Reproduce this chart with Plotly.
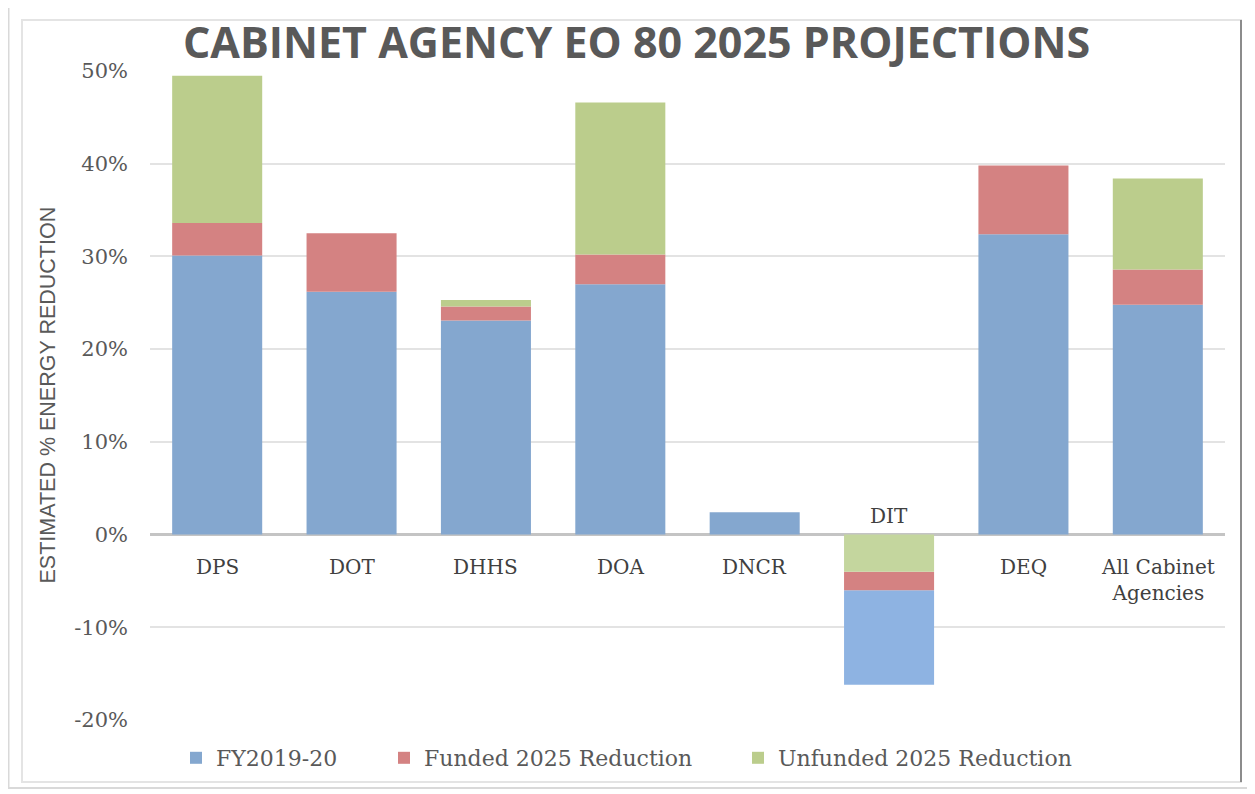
import plotly.graph_objects as go

# ---- data ----
categories = ["DPS", "DOT", "DHHS", "DOA", "DNCR", "DIT", "DEQ", "All Cabinet<br>Agencies"]
fy2019_20 = [30.1, 26.2, 23.1, 27.0, 2.4, -10.2, 32.4, 24.8]
funded_2025 = [3.5, 6.3, 1.5, 3.2, 0.0, -2.0, 7.4, 3.8]
unfunded_2025 = [15.9, 0.0, 0.7, 16.4, 0.0, -4.0, 0.0, 9.8]
series_names = ["FY2019-20", "Funded 2025 Reduction", "Unfunded 2025 Reduction"]
tick_values = [-20, -10, 0, 10, 20, 30, 40, 50]
tick_labels = ["-20%", "-10%", "0%", "10%", "20%", "30%", "40%", "50%"]

# ---- styling ----
BLUE, BLUE_NEG = "#84A7CF", "#8EB3E2"
RED = "#D48282"
GREEN, GREEN_NEG = "#BBCD8C", "#C4D69E"
GREY_TXT = "#595959"
LABEL_TXT = "#404040"
SERIF = "DejaVu Serif"

# the page body has an 8px margin; work in screen pixels and shift
OFF = 8
W, H = 1255 - OFF, 794 - OFF
PLOT_X0, PLOT_X1 = 150, 1225      # screen px
PLOT_Y0, PLOT_Y1 = 71, 720        # screen px
L, R = PLOT_X0 - OFF, W - (PLOT_X1 - OFF)
T, B = PLOT_Y0 - OFF, H - (PLOT_Y1 - OFF)
PW, PH = PLOT_X1 - PLOT_X0, PLOT_Y1 - PLOT_Y0


def px(x):
    return (x - PLOT_X0) / PW


def py(y):
    return (PLOT_Y1 - y) / PH


# stacking bases: positive bars stack FY -> funded -> unfunded upward,
# negative bar (DIT) stacks unfunded -> funded -> FY downward
b_fy, b_fu, b_un = [], [], []
for f, fu, un in zip(fy2019_20, funded_2025, unfunded_2025):
    if f >= 0:
        b_fy.append(0)
        b_fu.append(f)
        b_un.append(f + fu)
    else:
        b_un.append(0)
        b_fu.append(un)
        b_fy.append(un + fu)

fy_colors = [BLUE if v >= 0 else BLUE_NEG for v in fy2019_20]
un_colors = [GREEN if v >= 0 else GREEN_NEG for v in unfunded_2025]

fig = go.Figure()
fig.add_trace(go.Bar(x=categories, y=fy2019_20, base=b_fy, name=series_names[0],
                     marker=dict(color=fy_colors, line=dict(width=0)), legend="legend"))
fig.add_trace(go.Bar(x=categories, y=funded_2025, base=b_fu, name=series_names[1],
                     marker=dict(color=RED, line=dict(width=0)), legend="legend2"))
fig.add_trace(go.Bar(x=categories, y=unfunded_2025, base=b_un, name=series_names[2],
                     marker=dict(color=un_colors, line=dict(width=0)), legend="legend3"))

annotations = []
for i, c in enumerate(categories):
    total = fy2019_20[i] + funded_2025[i] + unfunded_2025[i]
    if total >= 0:
        annotations.append(dict(x=c, y=0, xref="x", yref="y", text=c, showarrow=False,
                                yanchor="top", yshift=-18,
                                font=dict(family=SERIF, size=20, color=LABEL_TXT)))
    else:
        annotations.append(dict(x=c, y=0, xref="x", yref="y", text=c, showarrow=False,
                                yanchor="bottom", yshift=5,
                                font=dict(family=SERIF, size=20, color=LABEL_TXT)))

annotations.append(dict(x=px(47), y=0.5, xref="paper", yref="paper",
                        text="ESTIMATED % ENERGY REDUCTION", textangle=-90,
                        showarrow=False, xanchor="center", yanchor="middle",
                        font=dict(family="Liberation Sans", size=21.5, color=GREY_TXT)))

shapes = [
    dict(type="rect", xref="paper", yref="paper", x0=px(8.5), x1=px(1251), y0=py(788), y1=py(6.5),
         line=dict(color="#D9D9D9", width=2), layer="below"),
    dict(type="rect", xref="paper", yref="paper", x0=px(22), x1=px(1241), y0=py(782), y1=py(20),
         line=dict(color="#E4E4E4", width=2), layer="below"),
    dict(type="line", xref="paper", yref="paper", x0=px(1241), x1=px(1241), y0=py(782), y1=py(20),
         line=dict(color="#8C8C8C", width=2), layer="below"),
]

legend_common = dict(orientation="h", yanchor="middle", y=py(758), xanchor="left",
                     font=dict(family=SERIF, size=22, color=GREY_TXT),
                     bgcolor="rgba(0,0,0,0)", borderwidth=0)

fig.update_layout(
    width=W, height=H,
    margin=dict(l=L, r=R, t=T, b=B),
    paper_bgcolor="white", plot_bgcolor="white",
    barmode="overlay", bargap=0.33,
    title=dict(text="<b>CABINET AGENCY EO 80 2025 PROJECTIONS</b>",
               x=(636.5 - OFF) / W, xanchor="center", y=1 - (43 - OFF) / H, yanchor="middle",
               font=dict(family="Open Sans", size=43, color=GREY_TXT)),
    xaxis=dict(showticklabels=False, showgrid=False, zeroline=False, showline=False,
               ticks=""),
    yaxis=dict(range=[-20, 50], tickvals=tick_values, ticktext=tick_labels,
               showgrid=True, gridcolor="#E3E3E3", gridwidth=2,
               zeroline=True, zerolinecolor="#C4C4C4", zerolinewidth=2.5,
               showline=False, ticks="", ticklabelstandoff=21,
               tickfont=dict(family=SERIF, size=21, color=GREY_TXT)),
    showlegend=True,
    legend=dict(x=px(176), **legend_common),
    legend2=dict(x=px(384), **legend_common),
    legend3=dict(x=px(738), **legend_common),
    annotations=annotations,
    shapes=shapes,
)

fig.write_html("out.html")
